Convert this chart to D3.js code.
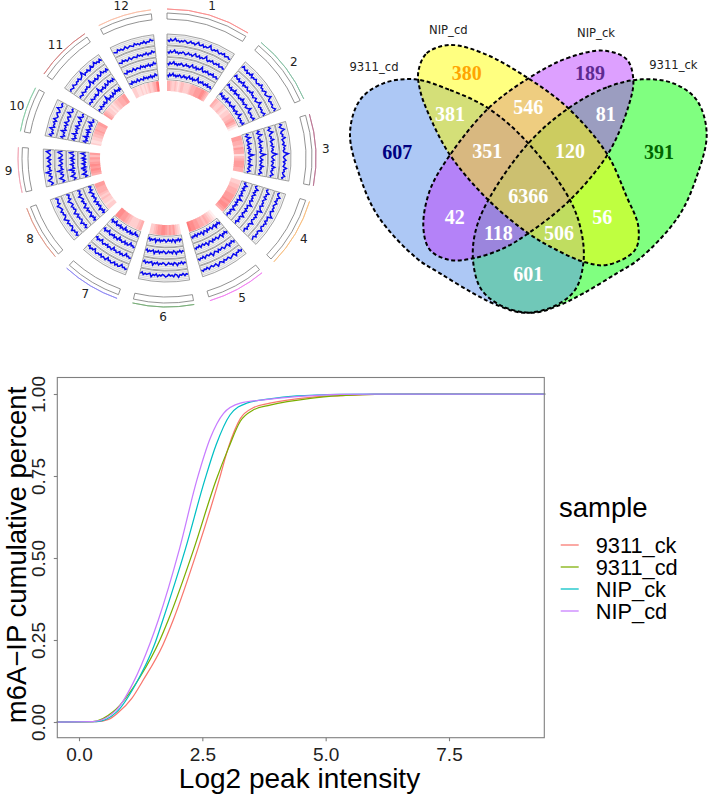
<!DOCTYPE html>
<html><head><meta charset="utf-8">
<script src="https://cdn.jsdelivr.net/npm/d3@7"></script>
<style>html,body{margin:0;padding:0;background:#fff}svg{display:block}</style>
</head><body><svg id="c" width="709" height="795"></svg>
<script>
// ---------- circos data ----------
const chrNames=["1","2","3","4","5","6","7","8","9","10","11","12"];
const chrSizes=[43,35.9,36.4,35.5,29.9,31.2,29.7,28.4,23,23.2,29,27.5];
const chrColors=["#f98a8a","#80bca0","#b8708f","#f8bb7a","#f07cf0","#74aa74","#8a84f2","#dc9484","#f0a4b4","#86cca4","#d27c7c","#f9bca4"];
const heat=[
[5,5,4,3,3,4,3,2,3,4,4,3,3,3,3,4,5,5,5,6,6,6,6,7,7,6,5,4],
[5,4,3,3,4,3,2,3,3,4,4,5,6,5,3,1],
[6,6,5,5,4,6,5,5,2,4,5,6,6,6,5,5],
[3,3,4,4,5,5,5,6,6,6,7,6,7,7,6,5],
[1,2,3,4,5,4,5,5,6,6,7,7,8],
[2,3,4,6,5,6,5,6,7,7,6,6,5,4,3,3],
[5,4,3,3,3,4,5,6,6,7,7],
[3,3,2,3,3,4,3,4,5,5,5,6,6],
[5,6,7,6,7,6,5,6,4,6],
[3,2,2,3,3,4,4,5,5,6,5,5,5,6,6],
[6,5,4,3,3,2,3,2,3,4,4,5,5,5,6,6],
[3,3,3,2,2,2,3,2,2,3,2,3,4,3,3,4,5,5,8,9]];
const signal=[
[5,3,6,4,5,7,4,5,3,5,4,6,5,3,4,6,4,5,3,5,7,4,4,6,3,5,4,5,8,4,3,5,4,6,4,3,5,4,6,3,4,5,3,4],
[4,7,5,4,6,3,5,4,7,3,5,4,6,4,3,5,4,7,4,5,3,5,6,3,4,5,8,4,3,5,4,5,3,4,6,3],
[4,6,3,5,8,4,3,5,4,7,3,4,5,3,6,4,5,3,4,9,5,3,4,6,3,5,4,3,7,4,5,3,4,6,3,4],
[5,3,4,7,4,5,3,6,4,3,5,4,6,3,4,5,8,3,4,5,3,6,4,5,3,4,7,4,3,5,4,6,3,4,5],
[4,6,3,5,4,7,3,4,5,6,3,4,5,3,6,4,3,5,7,3,4,5,3,4,6,3,5,4,6,4],
[5,4,6,3,5,4,7,4,3,6,4,5,3,5,6,4,3,5,4,6,3,5,4,7,3,4,5,4,6,3,5],
[5,6,4,5,2,5,6,4,6,3,5,6,4,5,2,6,5,4,6,3,5,4,6,5,2,5,4,6,3,5],
[4,6,3,5,4,7,4,3,5,4,6,3,5,7,4,3,5,4,6,3,4,5,7,3,5,4,3,6],
[6,3,5,8,4,3,6,4,9,3,5,4,7,3,4,6,3,7,4,3,5,8,3],
[4,7,3,5,4,8,3,5,4,6,3,7,4,3,5,6,3,4,8,4,3,5,4],
[3,5,4,3,6,4,3,5,4,6,3,4,5,9,3,5,4,6,3,4,7,4,5,8,5,6,4,7,4],
[5,4,3,6,4,5,3,4,6,3,4,5,4,3,6,4,5,3,5,4,6,3,5,4,7,5,6]];
// ---------- venn data ----------
const setNames=["9311_cd","NIP_cd","NIP_ck","9311_ck"];
const vennCounts=[607,380,189,391,381,546,81,42,56,601,351,120,118,506,6366];
const vennMembers=["A","B","C","D","AB","BC","CD","AC","BD","AD","ABC","BCD","ACD","ABD","ABCD"];
const vennFills=["#adc8f5","#ffff80","#dda0ff","#80ff80","#d4df78","#eecd80","#9b9dc0","#b482f8","#bfff40","#70c8b8","#d8b880","#cccc60","#9b85dd","#c0dd60","#ccc070"];
const vennTextFill=["#000080","#ffa500","#5e2a92","#006400","#fff","#fff","#fff","#fff","#fff","#fff","#fff","#fff","#fff","#fff","#fff"];
const vennLabelPos=[[172,455],[380,220],[750,220],[957,455],[330,343],[565,320],[797,343],[344,650],[787,650],[565,823],[442,453],[690,453],[475,698],[657,698],[565,588]];
const shapeA=[[225,238],[330,270],[445,325],[565,430],[690,600],[725,700],[730,790],[705,870],[640,920],[550,938],[470,915],[400,880],[300,820],[230,775],[115,650],[60,530],[30,400],[60,300],[130,250]];
const shapeD=[[905,238],[800,262],[685,325],[565,430],[445,600],[405,700],[400,790],[425,870],[490,920],[580,938],[660,915],[730,880],[830,820],[900,775],[1015,650],[1070,530],[1100,400],[1070,300],[1000,250]];
const shapeB=[[235,215],[260,160],[330,135],[430,160],[565,235],[685,325],[800,460],[860,590],[895,680],[885,750],[800,795],[730,785],[650,750],[565,700],[445,600],[330,465],[265,340],[240,270]];
const shapeC=[[565,235],[680,175],[790,152],[860,178],[880,240],[865,320],[805,460],[690,600],[565,700],[490,745],[400,775],[330,780],[270,750],[250,680],[270,570],[330,465],[445,325]];
// ---------- ecdf data ----------
const ecdfSeries=["9311_ck","9311_cd","NIP_ck","NIP_cd"];
const ecdfColors=["#F8766D","#7CAE00","#00BFC4","#C77CFF"];
const redX=[-0.45,0.35,0.6,0.79,1.07,1.29,1.7,1.91,2.4,2.84,3.03,3.27,3.53,3.87,4.69,5.3,6,7,9.45];
const redY=[0,0.001,0.008,0.028,0.072,0.125,0.235,0.311,0.524,0.738,0.838,0.925,0.958,0.972,0.99,0.995,0.999,1,1];
const greenX=[-0.45,0.28,0.69,1.24,1.64,1.81,2.32,2.78,3.03,3.27,3.53,3.87,4.69,5.3,6,7,9.45];
const greenY=[0,0.001,0.031,0.138,0.25,0.311,0.524,0.738,0.835,0.917,0.951,0.966,0.987,0.995,0.999,1,1];
const tealX=[-0.45,0.35,0.76,1.14,1.54,1.7,2.15,2.55,2.78,3.06,3.4,3.87,4.41,5.3,6,9.45];
const tealY=[0,0.001,0.03,0.113,0.24,0.311,0.524,0.738,0.845,0.936,0.972,0.985,0.994,0.999,1,1];
const purpleX=[-0.45,0.28,0.76,1.1,1.44,1.608,2.03,2.39,2.66,2.93,3.27,3.74,4.41,5.3,6,9.45];
const purpleY=[0,0.001,0.037,0.12,0.24,0.311,0.524,0.738,0.865,0.941,0.972,0.982,0.992,0.999,1,1];
const xTicks=[0,2.5,5,7.5], yTicks=[0,0.25,0.5,0.75,1];

const svg=d3.select("#c");
// ---------- circos ----------
const cx=167,cy=158,gap=6.2;
const rad=d=>d*Math.PI/180;
const degPerMb=(360-12*gap)/d3.sum(chrSizes);
let cur=0;
const sectors=chrSizes.map(s=>{const a0=cur,a1=cur+s*degPerMb;cur=a1+gap;return[a0,a1];});
const circos=svg.append("g").attr("transform",`translate(${cx},${cy})`);
const arc=d3.arc();
const heatColor=d3.scaleLinear().domain([0,10]).range(["#ffffff","#ff5a5a"]);
const trackOuter=[124,112.3,100.7,89.1], trackW=10.9;
sectors.forEach(([a0,a1],i)=>{
  const g=circos.append("g");
  g.append("path").attr("d",arc({innerRadius:149,outerRadius:149,startAngle:rad(a0),endAngle:rad(a1)})).attr("fill","none").attr("stroke",chrColors[i]).attr("stroke-width",.8);
  g.append("path").attr("d",arc({innerRadius:139,outerRadius:145,startAngle:rad(a0),endAngle:rad(a1)})).attr("fill","#fff").attr("stroke","#777").attr("stroke-width",.8);
  const m=rad((a0+a1)/2);
  g.append("text").attr("x",159*Math.sin(m)).attr("y",-159*Math.cos(m)).attr("text-anchor","middle").attr("dominant-baseline","central")
   .attr("font-family","DejaVu Sans").attr("font-size",12).attr("fill","#222").text(chrNames[i]);
  const ang=d3.scaleLinear().domain([0,signal[i].length-1]).range([rad(a0+.3),rad(a1-.3)]);
  trackOuter.forEach(ro=>{
    const ri=ro-trackW;
    g.append("path").attr("d",arc({innerRadius:ri,outerRadius:ro,startAngle:rad(a0),endAngle:rad(a1)})).attr("fill","#f6f6f6").attr("stroke","none");
    d3.range(1,6).forEach(k=>{
      const r=ri+k*trackW/6;
      g.append("path").attr("d",arc({innerRadius:r,outerRadius:r,startAngle:rad(a0),endAngle:rad(a1)})).attr("fill","none").attr("stroke","#c8c8c8").attr("stroke-width",.4);
    });
    const rr=d3.scaleLinear().domain([-1,12]).range([ri,ro]);
    g.append("path").attr("d",d3.lineRadial().angle((d,j)=>ang(j)).radius(d=>rr(d))(signal[i])).attr("fill","none").attr("stroke","#0808f0").attr("stroke-width",1.5);
    g.append("path").attr("d",arc({innerRadius:ri,outerRadius:ro,startAngle:rad(a0),endAngle:rad(a1)})).attr("fill","none").attr("stroke","#7c7c7c").attr("stroke-width",.7);
  });
  const hs=(a1-a0)/heat[i].length;
  heat[i].forEach((v,j)=>{
    g.append("path").attr("d",arc({innerRadius:67,outerRadius:77.3,startAngle:rad(a0+j*hs),endAngle:rad(Math.min(a1,a0+(j+1)*hs+.5))})).attr("fill",heatColor(v));
  });
});
// ---------- venn ----------
const vx=d3.scaleLinear().domain([0,1107]).range([340,709]);
const vy=d3.scaleLinear().domain([0,960]).range([0,320]);
const shapeLine=d3.line().x(d=>vx(d[0])).y(d=>vy(d[1])).curve(d3.curveCatmullRomClosed.alpha(.5));
const shapes={A:shapeA,B:shapeB,C:shapeC,D:shapeD};
const defs=svg.append("defs");
Object.keys(shapes).forEach(k=>defs.append("clipPath").attr("id","clip"+k).append("path").attr("d",shapeLine(shapes[k])));
const venn=svg.append("g");
vennMembers.forEach((m,i)=>{
  let g=venn;
  m.split("").forEach(k=>{g=g.append("g").attr("clip-path",`url(#clip${k})`);});
  g.append("rect").attr("x",340).attr("y",0).attr("width",369).attr("height",330).attr("fill",vennFills[i]);
});
Object.keys(shapes).forEach(k=>venn.append("path").attr("d",shapeLine(shapes[k])).attr("fill","none").attr("stroke","#000").attr("stroke-width",2).attr("stroke-dasharray","4,2.6"));
vennCounts.forEach((c,i)=>{
  venn.append("text").attr("x",vx(vennLabelPos[i][0])).attr("y",vy(vennLabelPos[i][1])).attr("text-anchor","middle").attr("dominant-baseline","central")
   .attr("font-family","Liberation Serif").attr("font-weight","bold").attr("font-size",20).attr("fill",vennTextFill[i]).text(c);
});
const setLabelPos=[[102,200],[325,90],[768,98],[1000,196]];
setNames.forEach((n,i)=>{
  venn.append("text").attr("x",vx(setLabelPos[i][0])).attr("y",vy(setLabelPos[i][1])).attr("text-anchor","middle").attr("dominant-baseline","central")
   .attr("font-family","DejaVu Sans").attr("font-size",11.6).attr("fill","#222").text(n);
});
// ---------- ecdf ----------
const L=57.3,R=544.3,T=377.5,B=737.7;
const x=d3.scaleLinear().domain([0,7.5]).range([79,449]);
const y=d3.scaleLinear().domain([0,1]).range([722,394]);
const plot=svg.append("g");
const ln=d3.line().x(d=>x(d[0])).y(d=>y(d[1])).curve(d3.curveMonotoneX);
[[redX,redY],[greenX,greenY],[tealX,tealY],[purpleX,purpleY]].forEach(([xs,ys],i)=>{
  plot.append("path").attr("d",ln(d3.zip(xs,ys))).attr("fill","none").attr("stroke",ecdfColors[i]).attr("stroke-width",1.25);
});
plot.append("rect").attr("x",L).attr("y",T).attr("width",R-L).attr("height",B-T).attr("fill","none").attr("stroke","#7f7f7f").attr("stroke-width",1.1);
const sans="Liberation Sans";
const xAxis=svg.append("g").attr("transform",`translate(0,${B})`).call(d3.axisBottom(x).tickValues(xTicks).tickFormat(d3.format(".1f")).tickSize(3.5).tickPadding(6));
const yAxis=svg.append("g").attr("transform",`translate(${L},0)`).call(d3.axisLeft(y).tickValues(yTicks).tickFormat(d3.format(".2f")).tickSize(3.5).tickPadding(6));
[xAxis,yAxis].forEach(a=>{a.select(".domain").remove();a.selectAll("line").attr("stroke","#7f7f7f").attr("stroke-width",1.1);
  a.selectAll("text").attr("font-family",sans).attr("font-size",19).attr("fill","#222");});
yAxis.selectAll("text").attr("transform","rotate(-90)").attr("text-anchor","middle").attr("x",0).attr("y",-12.3).attr("dy",0);
svg.append("text").attr("x",299.5).attr("y",788).attr("text-anchor","middle").attr("font-family",sans).attr("font-size",28).attr("fill","#000").text("Log2 peak intensity");
svg.append("text").attr("transform","translate(25.5,555) rotate(-90)").attr("text-anchor","middle").attr("font-family",sans).attr("font-size",27.5).attr("fill","#000").text("m6A\u2212IP cumulative percent");
svg.append("text").attr("x",559).attr("y",516.7).attr("font-family",sans).attr("font-size",27.5).text("sample");
const ky=d3.scalePoint().domain(ecdfSeries).range([545,611]);
ecdfSeries.forEach((s,i)=>{
  svg.append("line").attr("x1",560.7).attr("x2",578.7).attr("y1",ky(s)).attr("y2",ky(s)).attr("stroke",ecdfColors[i]).attr("stroke-width",1.25);
  svg.append("text").attr("x",595.7).attr("y",ky(s)+7.7).attr("font-family",sans).attr("font-size",21.8).text(s);
});
</script></body></html>
